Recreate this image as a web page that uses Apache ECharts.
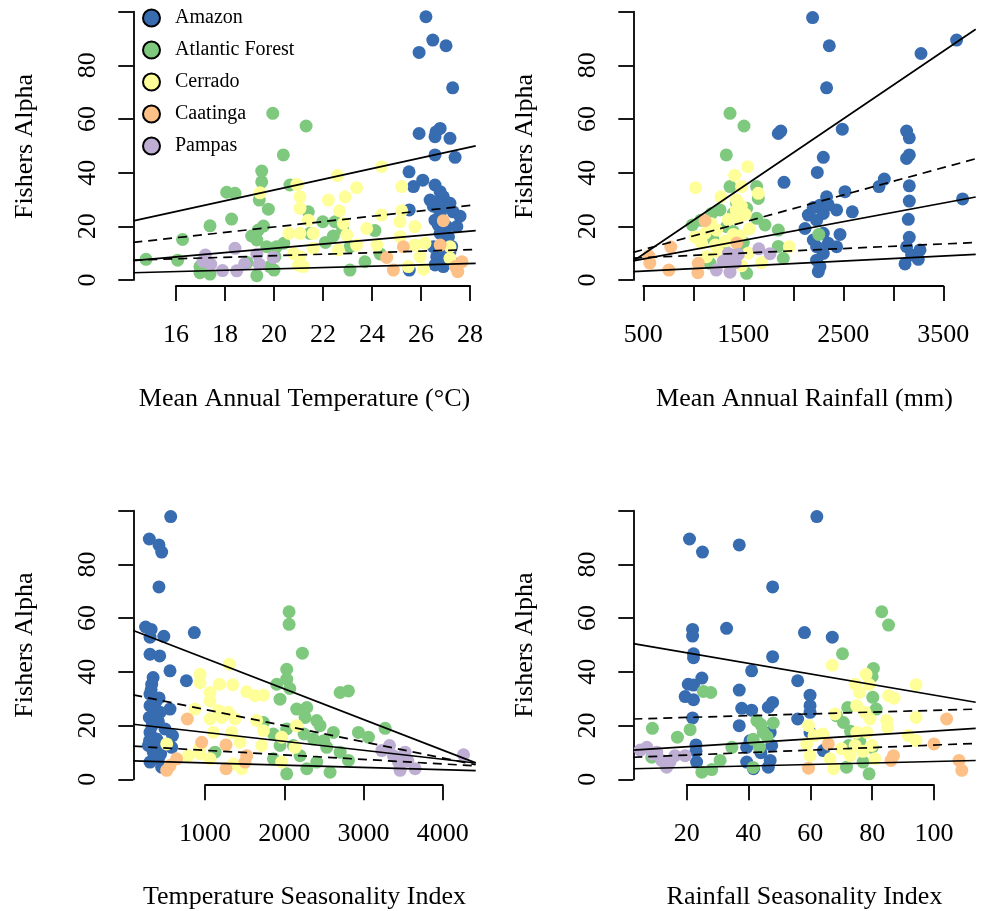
<!DOCTYPE html>
<html><head><meta charset="utf-8">
<script src="https://cdn.jsdelivr.net/npm/echarts@6/dist/echarts.min.js"></script>
<style>html,body{margin:0;padding:0;background:#fff}#c{width:982px;height:911px}</style>
</head><body><div id="c"></div>
<script>
// ---------------- DATA ----------------
const biomes = ['Amazon', 'Atlantic Forest', 'Cerrado', 'Caatinga', 'Pampas'];
const biomeColors = ['#386CB0', '#7FC97F', '#FFFF99', '#FDC086', '#BEAED4'];

// Panel 1: Mean annual temperature (°C) vs Fishers alpha
const amazonTemp = [[26.2,98.1],[26.48,89.4],[27.02,87.3],[25.92,84.8],[27.29,71.6],[25.92,54.6],[26.61,55.2],[26.78,56.5],[26.57,53.4],[27.18,52.8],[26.57,46.6],[27.39,45.7],[25.51,40.3],[26.07,37.2],[25.69,34.8],[26.57,35.4],[26.78,32.9],[26.91,31.0],[26.37,29.8],[26.64,29.2],[27.18,28.6],[27.31,25.4],[25.52,26.1],[26.78,24.8],[26.57,22.3],[27.59,23.8],[27.05,19.9],[27.46,19.9],[26.78,17.4],[27.12,16.1],[26.5,12.4],[26.91,11.8],[27.18,10.6],[26.64,8.7],[27.05,8.1],[26.57,5.6],[26.91,5.0],[25.52,3.7],[27.31,6.2],[26.9,27.0],[26.5,27.5],[27.0,14.0],[26.7,20.5],[27.25,12.5]];
const atlanticTemp = [[19.95,62.1],[21.31,57.4],[20.38,46.6],[14.78,7.7],[16.07,7.4],[16.27,15.1],[17.39,20.2],[18.07,32.7],[18.41,32.3],[18.27,22.7],[19.5,40.6],[19.5,36.6],[19.4,29.8],[19.77,26.4],[20.65,35.4],[21.4,25.4],[19.09,16.4],[19.36,18.6],[19.57,20.1],[19.3,14.9],[19.7,12.4],[20.1,12.4],[20.4,13.7],[19.84,5.0],[18.9,6.5],[20.04,8.7],[16.98,2.7],[17.39,2.2],[19.3,1.6],[16.98,5.0],[21.99,21.7],[22.49,21.7],[22.42,16.4],[23.1,12.4],[23.1,3.7],[23.71,6.8],[24.12,18.4],[24.33,9.7],[21.47,17.4],[20.0,3.7],[22.8,19.0],[22.1,14.0]];
const cerradoTemp = [[19.43,32.5],[20.93,35.6],[21.06,31.0],[21.06,26.7],[21.4,22.3],[22.59,38.9],[24.39,42.2],[23.37,34.4],[22.9,31.0],[22.22,29.8],[22.67,25.8],[25.21,34.8],[25.21,25.8],[24.39,24.2],[20.61,17.4],[21.06,17.4],[21.6,17.4],[22.83,21.1],[22.97,16.8],[23.78,19.2],[23.37,13.0],[24.2,13.0],[22.63,11.2],[21.6,11.8],[21.06,8.7],[21.2,5.0],[25.14,21.7],[25.75,19.9],[25.14,16.1],[25.75,13.0],[26.16,13.7],[26.1,4.0],[25.48,5.0],[27.18,8.1],[25.96,8.7],[27.18,12.4],[20.8,9.9],[21.0,5.5]];
const caatingaTemp = [[26.91,22.1],[26.78,13.0],[25.28,12.4],[24.6,8.4],[24.87,3.7],[27.67,6.8],[27.5,3.1],[27.4,5.0]];
const pampasTemp = [[17.2,9.3],[17.42,5.9],[17.9,3.5],[18.41,11.8],[18.48,3.4],[18.8,6.0],[19.3,9.6],[19.4,5.9],[19.97,8.4],[17.1,7.0]];

// Panel 2: Mean annual rainfall (mm)
const amazonRain = [[2193,97.8],[2360,87.3],[3277,84.4],[3633,89.4],[2333,71.6],[1850,54.6],[1875,55.5],[2490,56.2],[3133,55.5],[3160,53.0],[3160,46.6],[3133,45.3],[2300,45.7],[2240,40.1],[1907,36.4],[2910,37.6],[2857,34.8],[3160,35.1],[3160,29.4],[3693,30.2],[2333,31.0],[2517,32.9],[2590,25.4],[2433,26.1],[2267,27.9],[2150,24.2],[2300,24.8],[2233,22.3],[2117,19.2],[2300,17.4],[2467,17.0],[3150,22.6],[3160,15.9],[3133,12.4],[3267,11.2],[3183,9.3],[3250,7.7],[3117,6.0],[2433,12.4],[2233,12.4],[2300,9.9],[2233,7.4],[2267,5.0],[2250,3.1],[2350,13.7],[2200,14.9],[2350,28.0],[2200,27.0]];
const atlanticRain = [[1367,62.1],[1507,57.4],[1330,46.6],[1367,34.8],[1633,34.8],[1650,30.4],[1267,26.1],[1400,24.8],[1533,26.7],[990,20.5],[1075,22.3],[1183,24.8],[1633,23.0],[1717,20.5],[1850,18.6],[1334,19.9],[1850,12.5],[1900,8.1],[1533,2.5],[1167,6.2],[2255,17.0],[1433,28.6],[1500,14.0],[1450,10.0],[1300,12.0],[1200,15.0],[1400,18.0]];
const cerradoRain = [[1023,34.4],[1543,42.2],[1413,39.0],[1483,34.8],[1650,32.3],[1275,31.0],[1433,29.8],[1480,27.5],[1430,26.0],[1520,24.5],[1450,23.0],[1350,22.5],[1020,16.0],[1083,13.7],[1117,17.4],[1233,18.6],[1220,13.0],[1320,14.5],[1400,17.0],[1470,16.5],[1960,12.4],[1683,6.5],[1483,5.3],[1133,8.7],[1250,10.5],[1550,10.0],[1350,6.0],[1180,21.0],[1560,19.0]];
const caatingaRain = [[1117,22.1],[775,12.3],[555,8.9],[565,6.3],[755,3.7],[1050,6.2],[1045,2.7],[1434,13.8]];
const pampasRain = [[1230,3.7],[1367,2.9],[1350,9.9],[1450,9.5],[1420,6.5],[1370,6.0],[1655,11.6],[1767,9.8],[1300,7.0]];

// Panel 3: Temperature seasonality index
const amazonTSeason = [[567,97.8],[297,89.4],[419,87.2],[453,84.5],[419,71.5],[250,56.5],[320,55.6],[306,52.7],[480,53.0],[865,54.4],[306,46.3],[428,45.7],[558,40.1],[765,36.4],[345,37.6],[327,35.1],[306,31.4],[420,30.0],[306,27.1],[558,25.8],[432,24.6],[297,22.7],[411,21.1],[495,18.4],[590,15.9],[306,17.1],[390,14.6],[579,11.5],[285,12.2],[348,9.7],[411,7.2],[306,6.0],[453,4.1],[330,19.5],[380,28.5],[320,33.0],[400,11.0],[460,12.5],[350,24.0],[300,14.0],[440,9.0]];
const atlanticTSeason = [[2061,62.2],[2061,57.5],[2229,46.7],[2031,40.7],[2031,37.0],[1905,35.1],[2705,32.0],[2810,32.6],[1947,29.5],[2157,25.8],[2284,26.4],[2263,22.7],[2410,21.5],[2452,19.6],[2620,17.1],[2936,17.1],[3062,15.3],[3273,18.6],[1863,16.5],[1737,20.8],[2031,18.4],[1947,12.2],[2115,12.2],[2368,14.6],[2536,11.5],[2705,9.7],[2810,6.6],[1863,7.2],[2031,1.6],[2284,3.5],[2578,2.2],[2410,6.0],[1126,9.7],[2200,8.4],[2070,33.5],[2250,16.5],[2500,14.0]];
const cerradoTSeason = [[1307,42.6],[937,38.8],[937,35.7],[1181,35.1],[1349,34.9],[1526,32.3],[1631,30.8],[1737,31.0],[1063,32.0],[1063,28.9],[874,25.8],[1168,25.2],[1295,24.6],[1063,22.1],[1210,22.7],[1379,22.1],[1652,21.5],[1737,17.7],[1716,12.2],[1442,13.4],[1337,17.1],[1105,17.1],[937,11.5],[790,8.4],[937,9.1],[1063,7.2],[1358,5.3],[1463,3.5],[516,12.8],[1968,15.3],[2157,19.6],[2136,11.5],[1968,6.0]];
const caatingaTSeason = [[777,22.1],[958,13.4],[1265,12.4],[1526,8.4],[1505,6.0],[1265,3.5],[642,7.2],[558,4.7],[516,2.9]];
const pampasTSeason = [[4262,8.7],[3328,12.2],[3231,10.3],[3525,9.7],[3441,6.0],[3652,3.5],[3462,2.9],[3378,8.4],[3560,6.5]];

// Panel 4: Rainfall seasonality index
const amazonRSeason = [[62.1,97.8],[20.9,89.4],[25.1,84.5],[37.0,87.2],[47.8,71.5],[21.9,55.6],[21.9,53.1],[32.9,56.0],[58.1,54.4],[67.1,52.7],[22.2,46.5],[22.2,45.0],[47.8,45.4],[41.0,40.1],[24.9,37.4],[20.5,35.1],[22.2,34.8],[55.9,36.4],[59.9,31.0],[19.5,30.5],[22.2,29.3],[37.0,32.9],[47.8,28.3],[46.4,26.5],[37.8,26.1],[41.0,25.4],[59.9,27.1],[59.9,24.6],[21.9,22.5],[55.9,22.1],[37.0,19.6],[47.0,17.1],[47.5,12.2],[23.0,12.4],[23.2,6.0],[39.4,11.5],[39.4,6.0],[41.6,3.5],[47.0,6.6],[46.4,4.1],[59.9,17.1],[64.2,10.3],[23.0,10.0],[44.0,9.5],[40.5,14.0]];
const atlanticRSeason = [[83.1,62.2],[85.3,57.2],[70.4,46.5],[80.4,41.0],[80.0,38.0],[25.4,32.4],[27.8,32.0],[80.2,30.2],[81.3,25.8],[72.1,26.4],[8.9,18.6],[17.0,15.3],[42.7,21.5],[48.0,20.6],[44.8,17.1],[41.5,14.5],[43.5,11.5],[68.5,23.3],[70.7,20.8],[73.0,17.5],[34.6,11.5],[21.1,18.1],[30.8,6.6],[28.1,3.2],[24.9,2.2],[41.5,4.0],[79.0,1.6],[72.4,12.2],[80.0,11.5],[77.1,6.0],[71.7,4.1],[8.7,7.8],[44.0,20.0],[46.0,15.5],[76.0,14.0]];
const cerradoRSeason = [[67.1,42.2],[78.0,38.8],[74.5,35.1],[79.0,35.0],[94.2,34.9],[85.3,30.8],[87.1,29.9],[75.9,32.0],[68.0,24.0],[75.0,27.1],[77.7,24.6],[79.3,22.1],[84.7,21.5],[85.0,19.0],[94.2,22.7],[91.7,15.9],[94.2,14.0],[59.4,19.6],[61.2,15.9],[64.0,16.5],[58.8,12.8],[59.9,8.4],[66.4,7.2],[67.5,3.5],[72.9,8.4],[75.0,17.1],[78.3,17.1],[79.9,12.2],[80.9,7.2],[74.5,12.2],[70.0,11.0],[77.0,10.0]];
const caatingaRSeason = [[104.1,22.1],[100.0,12.8],[86.9,8.4],[86.1,6.6],[108.1,6.6],[109.0,2.9],[65.8,12.8],[59.4,3.7]];
const pampasRSeason = [[7.1,11.5],[10.3,9.7],[14.6,6.0],[13.5,4.1],[19.5,8.4],[11.9,6.6],[16.2,8.4],[5.0,10.5],[9.0,9.0]];

// Quantile regression fits [intercept, slope] for tau = 0.1, 0.25, 0.5, 0.75, 0.9
const quantiles = [0.1, 0.25, 0.5, 0.75, 0.9];
const fitTemp = [[-0.87,0.2505],[3.32,0.286],[-4.23,0.802],[-0.29,1.002],[-6.5,2.0]];
const fitRain = [[2.34,0.00189],[7.48,0.0017],[4.32,0.00696],[6.22,0.01019],[-3.0,0.02522]];
const fitTSeason = [[6.5,-0.00083],[12.1,-0.0017],[20.45,-0.00335],[31.7,-0.00605],[56.3,-0.01146]];
const fitRSeason = [[3.42,0.0279],[7.67,0.0468],[10.30,0.0728],[22.01,0.0333],[50.84,-0.198]];

// Axis ticks and labels
const alphaTicks = [0,20,40,60,80,100];
const alphaTickLabels = [0,20,40,60,80];
const tempTicks = [16,18,20,22,24,26,28];
const tempTickLabels = [16,18,20,22,24,26,28];
const rainTicks = [500,1000,1500,2000,2500,3000,3500];
const rainTickLabels = [500,1500,2500,3500];
const tSeasonTicks = [1000,2000,3000,4000];
const tSeasonTickLabels = [1000,2000,3000,4000];
const rSeasonTicks = [20,40,60,80,100];
const rSeasonTickLabels = [20,40,60,80,100];

const xTitles = ['Mean Annual Temperature (\u00B0C)', 'Mean Annual Rainfall (mm)', 'Temperature Seasonality Index', 'Rainfall Seasonality Index'];
const yTitle = 'Fishers Alpha';

// ---------------- LAYOUT ----------------
const FONT = '"Liberation Serif", "Times New Roman", serif';
const yRange = [-2.2, 101.7];
const panels = [
  {x:133.3, y:7.1,   w:342.4, h:278.8, xr:[14.26,28.23], ticks:tempTicks, labels:tempTickLabels, fit:fitTemp,
   sets:[amazonTemp, atlanticTemp, cerradoTemp, caatingaTemp, pampasTemp]},
  {x:633.3, y:7.1,   w:342.4, h:278.8, xr:[400,3824], ticks:rainTicks, labels:rainTickLabels, fit:fitRain,
   sets:[amazonRain, atlanticRain, cerradoRain, caatingaRain, pampasRain]},
  {x:133.3, y:506.1, w:342.4, h:279.1, xr:[95,4416], ticks:tSeasonTicks, labels:tSeasonTickLabels, fit:fitTSeason,
   sets:[amazonTSeason, atlanticTSeason, cerradoTSeason, caatingaTSeason, pampasTSeason]},
  {x:633.3, y:506.1, w:342.4, h:279.1, xr:[2.72,113.5], ticks:rSeasonTicks, labels:rSeasonTickLabels, fit:fitRSeason,
   sets:[amazonRSeason, atlanticRSeason, cerradoRSeason, caatingaRSeason, pampasRSeason]}
];
function pxX(p, v) { return p.x + (v - p.xr[0]) / (p.xr[1] - p.xr[0]) * p.w; }
function pxY(p, v) { return p.y + p.h - (v - yRange[0]) / (yRange[1] - yRange[0]) * p.h; }

const grids = [], xAxes = [], yAxes = [], series = [];
const axisLineStyle = {color:'#000', width:1.8};
const labelStyle = {fontFamily: FONT, fontSize: 26, color: '#000'};

panels.forEach((p, i) => {
  const g = grids.length;
  // data grid (plot region)
  grids.push({left:p.x, top:p.y, width:p.w, height:p.h, containLabel:false});
  xAxes.push({type:'value', gridIndex:g, min:p.xr[0], max:p.xr[1],
    axisLine:{show:false}, axisTick:{show:false}, axisLabel:{show:false}, splitLine:{show:false},
    name:xTitles[i], nameLocation:'middle', nameGap:100, nameTextStyle:labelStyle});
  yAxes.push({type:'value', gridIndex:g, min:yRange[0], max:yRange[1],
    axisLine:{show:false}, axisTick:{show:false}, axisLabel:{show:false}, splitLine:{show:false},
    name:yTitle, nameLocation:'middle', nameGap:95, nameTextStyle:labelStyle});

  // x-axis grid (tick span only)
  const gx = grids.length;
  const xl = pxX(p, p.ticks[0]), xr = pxX(p, p.ticks[p.ticks.length-1]);
  const bottom = p.y + p.h;
  grids.push({left:xl, top:bottom-10, width:xr-xl, height:10, containLabel:false});
  xAxes.push({type:'value', gridIndex:gx, min:p.ticks[0], max:p.ticks[p.ticks.length-1], interval:p.ticks[1]-p.ticks[0],
    position:'bottom',
    axisLine:{show:true, onZero:false, lineStyle:axisLineStyle},
    axisTick:{show:true, inside:false, length:15, lineStyle:axisLineStyle},
    axisLabel:{show:true, margin:36, showMinLabel:true, showMaxLabel:true, ...labelStyle,
      formatter: v => p.labels.includes(v) ? String(v) : ''},
    splitLine:{show:false}});
  yAxes.push({type:'value', gridIndex:gx, show:false, min:0, max:1});

  // y-axis grid (0..100)
  const gy = grids.length;
  const yt = pxY(p, alphaTicks[alphaTicks.length-1]), yb = pxY(p, alphaTicks[0]);
  grids.push({left:p.x, top:yt, width:10, height:yb-yt, containLabel:false});
  xAxes.push({type:'value', gridIndex:gy, show:false, min:0, max:1});
  yAxes.push({type:'value', gridIndex:gy, min:alphaTicks[0], max:alphaTicks[alphaTicks.length-1], interval:20,
    position:'left',
    axisLine:{show:true, onZero:false, lineStyle:axisLineStyle},
    axisTick:{show:true, inside:false, length:15, lineStyle:axisLineStyle},
    axisLabel:{show:true, margin:32, rotate:90, showMinLabel:true, showMaxLabel:true, ...labelStyle,
      formatter: v => alphaTickLabels.includes(v) ? String(v) : ''},
    splitLine:{show:false}});

  // points
  p.sets.forEach((data, b) => {
    series.push({type:'scatter', name:biomes[b], xAxisIndex:g, yAxisIndex:g, data:data,
      symbol:'circle', symbolSize:13, clip:false, itemStyle:{color:biomeColors[b], opacity:1, borderWidth:0},
      z:2, silent:true});
  });
  // quantile regression lines
  p.fit.forEach((ab, q) => {
    const x0 = p.xr[0], x1 = p.xr[1];
    series.push({type:'line', xAxisIndex:g, yAxisIndex:g,
      data:[[x0, ab[0] + ab[1]*x0], [x1, ab[0] + ab[1]*x1]],
      symbol:'none', silent:true, z:5,
      lineStyle:{color:'#000', width:1.7, type:(q === 1 || q === 3) ? [9,6] : 'solid'}});
  });
});

const chart = echarts.init(document.getElementById('c'), null, {renderer:'canvas'});
chart.setOption({
  backgroundColor:'#fff',
  animation:false,
  grid:grids, xAxis:xAxes, yAxis:yAxes, series:series,
  legend:{data:biomes, orient:'vertical', left:142, top:8, padding:0, itemGap:12,
    itemWidth:17, itemHeight:17, icon:'circle',
    itemStyle:{borderColor:'#000', borderWidth:2},
    textStyle:{fontFamily:FONT, fontSize:20, color:'#000', padding:[0,0,0,10]}}
});
</script></body></html>
